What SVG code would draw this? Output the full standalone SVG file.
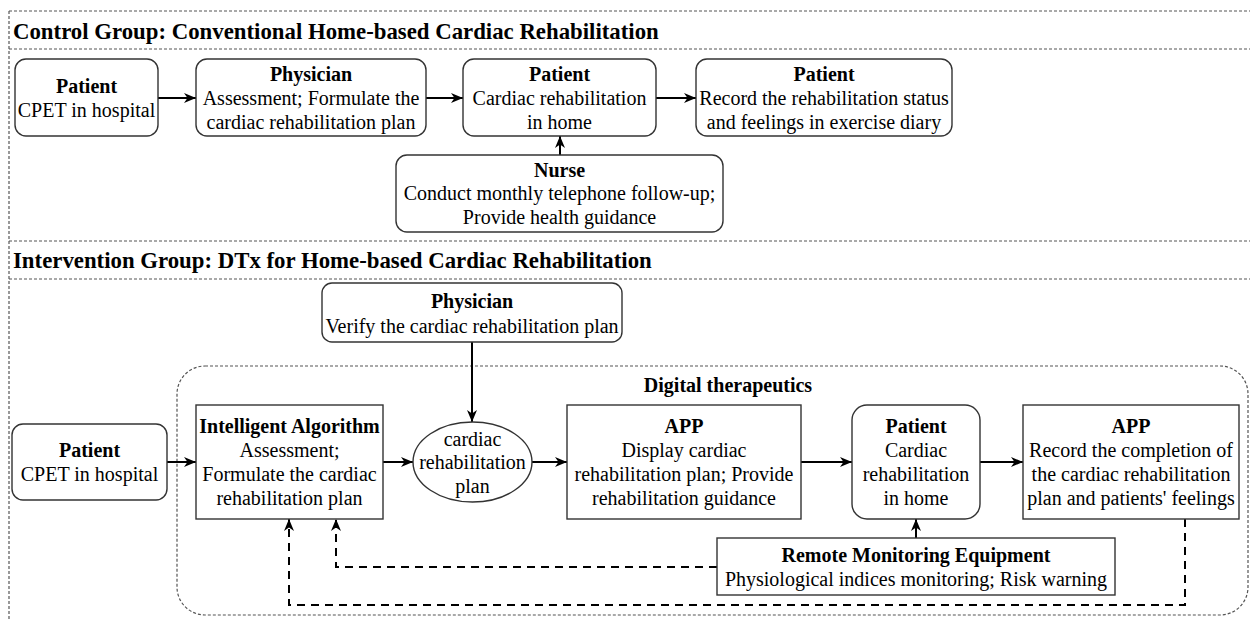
<svg xmlns="http://www.w3.org/2000/svg" width="1250" height="620" viewBox="0 0 1250 620">
<defs>
<style>
.frame{fill:none;stroke:#555;stroke-width:1.2;stroke-dasharray:3,2}
.box{fill:#fff;stroke:#333;stroke-width:1.4}
.conn{fill:none;stroke:#000;stroke-width:2}
.dash{fill:none;stroke:#000;stroke-width:2;stroke-dasharray:8,6}
text{font-family:"Liberation Serif","Times New Roman",serif;font-size:20px;fill:#000;text-anchor:middle}
.b{font-weight:bold}
.title{font-weight:bold;font-size:22.8px;text-anchor:start}
</style>
<marker id="ah" markerWidth="13" markerHeight="12" refX="12" refY="6" orient="auto" markerUnits="userSpaceOnUse">
<path d="M0,1 L12,6 L0,11 L3.5,6 z" fill="#000"/>
</marker>
</defs>
<rect width="1250" height="620" fill="#fff"/>

<g id="frames">
<line class="frame" x1="9" y1="11" x2="1250" y2="11"/>
<line class="frame" x1="9" y1="49" x2="1250" y2="49"/>
<line class="frame" x1="9" y1="241" x2="1250" y2="241"/>
<line class="frame" x1="9" y1="279" x2="1250" y2="279"/>
<line class="frame" x1="9" y1="11" x2="9" y2="620"/>
<rect class="frame" x="177" y="366" width="1071" height="249" rx="28" ry="28"/>
<text class="title" x="13" y="39">Control Group: Conventional Home-based Cardiac Rehabilitation</text>
<text class="title" x="13" y="268">Intervention Group: DTx for Home-based Cardiac Rehabilitation</text>
<text class="b" x="728" y="392">Digital therapeutics</text>
</g>

<g id="connectors">
<line class="conn" x1="158" y1="98" x2="196" y2="98" marker-end="url(#ah)"/>
<line class="conn" x1="426" y1="98" x2="463" y2="98" marker-end="url(#ah)"/>
<line class="conn" x1="656" y1="98" x2="696" y2="98" marker-end="url(#ah)"/>
<line class="conn" x1="560" y1="155" x2="560" y2="136" marker-end="url(#ah)"/>
<line class="conn" x1="167" y1="462" x2="196" y2="462" marker-end="url(#ah)"/>
<line class="conn" x1="383" y1="462" x2="413" y2="462" marker-end="url(#ah)"/>
<line class="conn" x1="472" y1="342" x2="472" y2="422" marker-end="url(#ah)"/>
<line class="conn" x1="532" y1="462" x2="567" y2="462" marker-end="url(#ah)"/>
<line class="conn" x1="801" y1="462" x2="852" y2="462" marker-end="url(#ah)"/>
<line class="conn" x1="980" y1="462" x2="1023" y2="462" marker-end="url(#ah)"/>
<line class="conn" x1="916" y1="538" x2="916" y2="519" marker-end="url(#ah)"/>
<path class="dash" d="M1185,519 L1185,605 L289,605 L289,519" marker-end="url(#ah)"/>
<path class="dash" d="M717,567 L336,567 L336,519" marker-end="url(#ah)"/>
</g>

<g id="c-patient1">
<rect class="box" x="15" y="59" width="143" height="77" rx="11"/>
<text class="b" x="86.5" y="93">Patient</text>
<text x="86.5" y="117">CPET in hospital</text>
</g>
<g id="c-physician">
<rect class="box" x="196" y="59" width="230" height="77" rx="11"/>
<text class="b" x="311" y="81">Physician</text>
<text x="311" y="105">Assessment; Formulate the</text>
<text x="311" y="129">cardiac rehabilitation plan</text>
</g>
<g id="c-patient2">
<rect class="box" x="463" y="59" width="193" height="77" rx="11"/>
<text class="b" x="559.5" y="81">Patient</text>
<text x="559.5" y="105">Cardiac rehabilitation</text>
<text x="559.5" y="129">in home</text>
</g>
<g id="c-patient3">
<rect class="box" x="696" y="59" width="256" height="77" rx="11"/>
<text class="b" x="824" y="81">Patient</text>
<text x="824" y="105">Record the rehabilitation status</text>
<text x="824" y="129">and feelings in exercise diary</text>
</g>
<g id="c-nurse">
<rect class="box" x="396" y="155" width="327" height="77" rx="11"/>
<text class="b" x="559.5" y="177">Nurse</text>
<text x="559.5" y="200">Conduct monthly telephone follow-up;</text>
<text x="559.5" y="224">Provide health guidance</text>
</g>

<g id="i-physician">
<rect class="box" x="322" y="283" width="300" height="59" rx="10"/>
<text class="b" x="472" y="308">Physician</text>
<text x="472" y="333">Verify the cardiac rehabilitation plan</text>
</g>
<g id="i-patient1">
<rect class="box" x="12" y="424" width="155" height="76" rx="11"/>
<text class="b" x="89.5" y="457">Patient</text>
<text x="89.5" y="481">CPET in hospital</text>
</g>
<g id="i-algorithm">
<rect class="box" x="196" y="405" width="187" height="114"/>
<text class="b" x="289.5" y="433">Intelligent Algorithm</text>
<text x="289.5" y="457">Assessment;</text>
<text x="289.5" y="481">Formulate the cardiac</text>
<text x="289.5" y="505">rehabilitation plan</text>
</g>
<g id="i-plan">
<ellipse class="box" cx="472.5" cy="462" rx="59.5" ry="40"/>
<text x="472.5" y="446">cardiac</text>
<text x="472.5" y="469">rehabilitation</text>
<text x="472.5" y="493">plan</text>
</g>
<g id="i-app1">
<rect class="box" x="567" y="405" width="234" height="114"/>
<text class="b" x="684" y="433">APP</text>
<text x="684" y="457">Display cardiac</text>
<text x="684" y="481">rehabilitation plan; Provide</text>
<text x="684" y="505">rehabilitation guidance</text>
</g>
<g id="i-patient2">
<rect class="box" x="852" y="405" width="128" height="114" rx="15"/>
<text class="b" x="916" y="433">Patient</text>
<text x="916" y="457">Cardiac</text>
<text x="916" y="481">rehabilitation</text>
<text x="916" y="505">in home</text>
</g>
<g id="i-app2">
<rect class="box" x="1023" y="405" width="216" height="114"/>
<text class="b" x="1131" y="433">APP</text>
<text x="1131" y="457">Record the completion of</text>
<text x="1131" y="481">the cardiac rehabilitation</text>
<text x="1131" y="505">plan and patients' feelings</text>
</g>
<g id="i-remote">
<rect class="box" x="717" y="538" width="398" height="57"/>
<text class="b" x="916" y="562">Remote Monitoring Equipment</text>
<text x="916" y="586">Physiological indices monitoring; Risk warning</text>
</g>
</svg>
